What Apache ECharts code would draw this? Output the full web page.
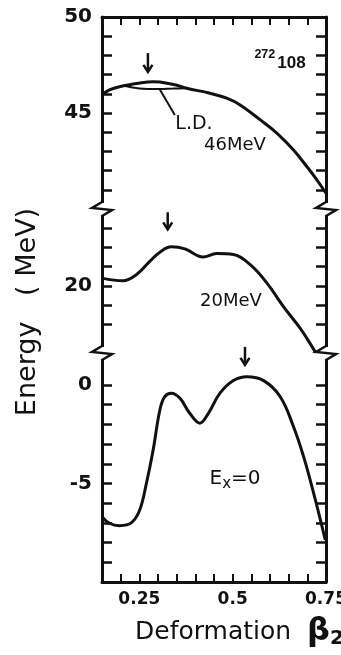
<!DOCTYPE html>
<html><head><meta charset="utf-8">
<script src="https://cdn.jsdelivr.net/npm/echarts@6/dist/echarts.min.js"></script>
<style>html,body{margin:0;padding:0;background:#fff}#c{width:341px;height:655px}</style>
</head><body><div id="c"></div>
<script>
// ---- data ----
const betaTop = [0.15,0.17,0.197,0.248,0.287,0.305,0.348,0.377,0.439,0.484,0.52,0.574,0.619,0.663,0.699,0.726,0.744,0.75];
const e46     = [45.94,46.2,46.37,46.55,46.63,46.61,46.46,46.29,46.03,45.77,45.42,44.64,43.94,43.07,42.2,41.51,40.99,40.83];
const betaLD  = [0.21,0.25,0.30,0.34,0.377];
const eLD     = [46.42,46.28,46.25,46.27,46.29];
const betaMid = [0.15,0.206,0.242,0.278,0.305,0.336,0.372,0.421,0.457,0.502,0.547,0.592,0.636,0.681,0.713,0.722];
const e20     = [20.4,20.26,20.58,21.27,21.75,22.03,21.92,21.5,21.68,21.63,21.1,20.14,18.91,17.78,16.82,16.52];
const betaBot = [0.15,0.17,0.197,0.229,0.251,0.269,0.287,0.305,0.318,0.336,0.359,0.385,0.412,0.435,0.466,0.502,0.538,0.583,0.627,0.663,0.69,0.717,0.735,0.748];
const e0      = [-6.69,-7.02,-7.14,-6.99,-6.35,-4.99,-3.3,-1.27,-0.59,-0.42,-0.68,-1.44,-1.94,-1.44,-0.42,0.22,0.42,0.22,-0.59,-2.12,-3.64,-5.5,-6.85,-7.87];
const arrowBeta = [0.273, 0.326, 0.533];
const arrowFrom = [48.12, 23.83, 1.93];
const arrowTo   = [47.14, 22.94, 1.02];
const leaderBeta = [0.305, 0.345];
const leaderE    = [46.22, 44.9];
const xTicks = [0.2,0.25,0.3,0.35,0.4,0.45,0.5,0.55,0.6,0.65,0.7];
const xLabels = [0.25,0.5,0.75];
const topTicks = [41,42,43,44,45,46,47,48,49];
const topLabels = [45,50];
const midTicks = [18,19,20,21,22,23];
const midLabels = [20];
const botTicks = [0,-1,-2,-3,-4,-5,-6,-7,-8,-9];
const botLabels = [0,-5];

// ---- layout ----
const L = 102, R = 15, W = 341 - L - R;
const P = [{top:17,h:192,min:40,max:50},{top:209,h:144,min:16.5,max:24},{top:353,h:229,min:-10,max:1.62}];
const INK = '#111';
const pairs = (xs, ys) => xs.map((x,i)=>[x, ys[i]]);

const chart = echarts.init(document.getElementById('c'), null, {renderer:'canvas'});

const grids = P.map(p => ({left:L, width:W, top:p.top, height:p.h, containLabel:false, outerBoundsMode:'none'}));
const xAxes = [
  {gridIndex:0, type:'value', position:'top', min:0.15, max:0.75,
   axisLine:{show:true, onZero:false, lineStyle:{color:INK,width:3}},
   axisTick:{show:true, inside:true, length:8, customValues:xTicks, lineStyle:{color:INK,width:2}},
   axisLabel:{show:false}, splitLine:{show:false}},
  {gridIndex:1, type:'value', min:0.15, max:0.75, show:false},
  {gridIndex:2, type:'value', position:'bottom', min:0.15, max:0.75,
   axisLine:{show:true, onZero:false, lineStyle:{color:INK,width:3}},
   axisTick:{show:true, inside:true, length:8, customValues:xTicks, lineStyle:{color:INK,width:2}},
   axisLabel:{show:true, customValues:xLabels, margin:9, color:INK, fontFamily:'DejaVu Sans', fontWeight:'bold', fontSize:17,
     formatter: v => String(v)},
   splitLine:{show:false}}
];
const tickSets = [[topTicks, topLabels],[midTicks, midLabels],[botTicks, botLabels]];
const yAxes = [];
P.forEach((p,i) => {
  yAxes.push({gridIndex:i, type:'value', position:'left', min:p.min, max:p.max,
    axisLine:{show:true, onZero:false, lineStyle:{color:INK,width:3}},
    axisTick:{show:true, inside:true, length:10, customValues:tickSets[i][0], lineStyle:{color:INK,width:2.5}},
    axisLabel:{show:true, customValues:tickSets[i][1], margin:10, color:INK, fontFamily:'DejaVu Sans', fontWeight:'bold', fontSize:20},
    splitLine:{show:false}});
  yAxes.push({gridIndex:i, type:'value', position:'right', min:p.min, max:p.max,
    axisLine:{show:true, onZero:false, lineStyle:{color:INK,width:3}},
    axisTick:{show:true, inside:true, length:10, customValues:tickSets[i][0], lineStyle:{color:INK,width:2.5}},
    axisLabel:{show:false}, splitLine:{show:false}});
});

const base = {type:'line', showSymbol:false, smooth:0.4, clip:false, animation:false,
  lineStyle:{color:INK, width:3}, itemStyle:{color:INK}};

const series = [
  Object.assign({}, base, {xAxisIndex:0, yAxisIndex:0, data:pairs(betaTop,e46)}),
  Object.assign({}, base, {xAxisIndex:0, yAxisIndex:0, data:pairs(betaLD,eLD), lineStyle:{color:INK,width:2},
    markLine:{silent:true, symbol:['none','none'], animation:false, lineStyle:{color:INK,width:2,type:'solid'}, label:{show:false},
      data:[[{coord:[leaderBeta[0],leaderE[0]]},{coord:[leaderBeta[1],leaderE[1]]}]]}}),
  Object.assign({}, base, {xAxisIndex:1, yAxisIndex:2, data:pairs(betaMid,e20)}),
  Object.assign({}, base, {xAxisIndex:2, yAxisIndex:4, data:pairs(betaBot,e0)})
];

// break marks on the axis frame
const graphic = [];
[[L, P[1].top],[L+W, P[1].top],[L, P[2].top],[L+W, P[2].top]].forEach(([x0,y0]) => {
  graphic.push({type:'rect', z:100, shape:{x:x0-4, y:y0-6, width:8, height:12}, style:{fill:'#fff'}});
  graphic.push({type:'polyline', z:101, shape:{points:[[x0,y0-7],[x0-10,y0-1],[x0+10,y0+1],[x0,y0+7]]},
    style:{stroke:INK, lineWidth:2.5, fill:null}});
});
const txt = (x,y,text,font,extra) => Object.assign({type:'text', z:102, x, y,
  style:Object.assign({text, font, fill:INK, align:'center', verticalAlign:'middle', textAlign:'center', textVerticalAlign:'middle'}, extra||{})});
const title = txt(28, 312, 'Energy   ( MeV)', '27px "DejaVu Sans"');
title.rotation = Math.PI/2;
graphic.push(title);
graphic.push(txt(194, 124, 'L.D.', '19px "DejaVu Sans"'));
graphic.push(txt(235, 145, '46MeV', '18px "DejaVu Sans"'));
graphic.push(txt(231, 301, '20MeV', '18px "DejaVu Sans"'));
graphic.push(txt(235, 479, 'E{s|x}=0', '20px "DejaVu Sans"', {rich:{s:{fontSize:15, fontFamily:'DejaVu Sans', fill:INK, padding:[10,0,0,0]}}}));
graphic.push(txt(280, 60, '{sup|272}{n|108}', 'bold 17px "Liberation Sans"', {rich:{
  sup:{fontSize:12.5, fontWeight:'bold', fontFamily:'Liberation Sans', fill:INK, padding:[0,2,10,0]},
  n:{fontSize:17, fontWeight:'bold', fontFamily:'Liberation Sans', fill:INK, padding:[6,0,0,0]}}}));
graphic.push(txt(135, 632, 'Deformation  {b|β}{s|2}', '25px "DejaVu Sans"', {align:'left', textAlign:'left', rich:{
  b:{fontSize:32, fontWeight:'bold', fontFamily:'DejaVu Sans', fill:INK},
  s:{fontSize:20, fontWeight:'bold', fontFamily:'DejaVu Sans', fill:INK, padding:[14,0,0,0]}}}));

chart.setOption({
  animation:false,
  backgroundColor:'#fff',
  grid:grids, xAxis:xAxes, yAxis:yAxes, series, graphic
});

// arrows marking the barrier tops, placed through the axes' own scales
const arrowAxes = [[0,0],[1,2],[2,4]];
const arrows = [];
arrowBeta.forEach((b,k) => {
  const f = {xAxisIndex:arrowAxes[k][0], yAxisIndex:arrowAxes[k][1]};
  const p0 = chart.convertToPixel(f, [b, arrowFrom[k]]);
  const p1 = chart.convertToPixel(f, [b, arrowTo[k]]);
  arrows.push({type:'line', z:103, shape:{x1:p0[0], y1:p0[1], x2:p1[0], y2:p1[1]-2}, style:{stroke:INK, lineWidth:2.5}});
  arrows.push({type:'polyline', z:103, shape:{points:[[p1[0]-4.5,p1[1]-7],[p1[0],p1[1]],[p1[0]+4.5,p1[1]-7]]},
    style:{stroke:INK, lineWidth:2.5, fill:null, lineJoin:'miter'}});
});
chart.setOption({graphic: graphic.concat(arrows)});
</script></body></html>
